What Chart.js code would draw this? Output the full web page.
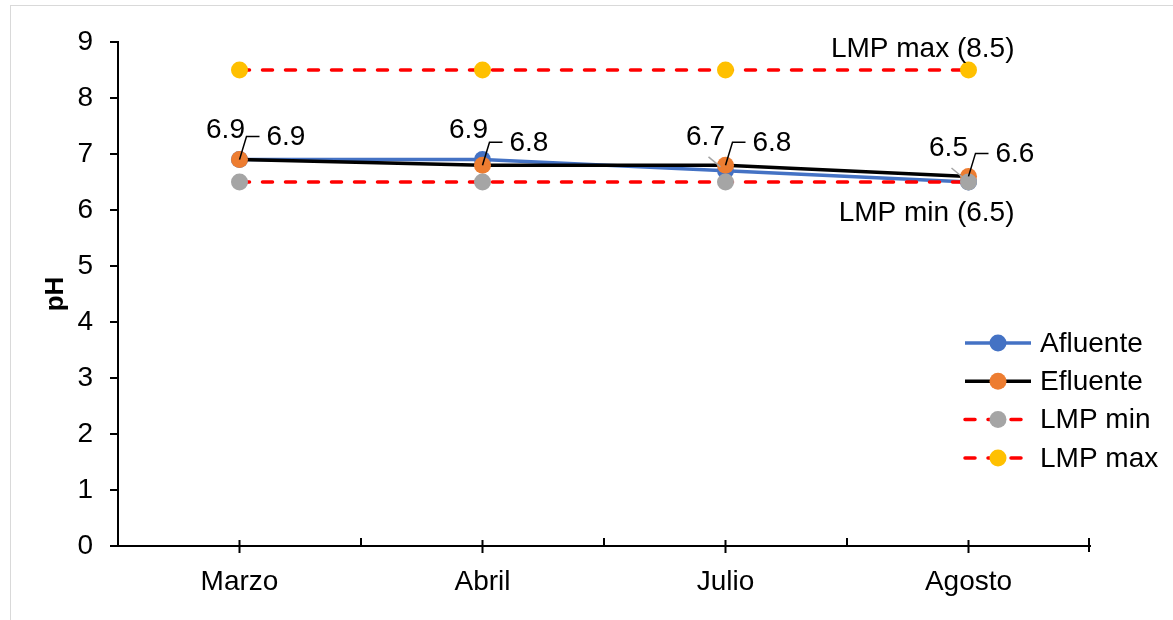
<!DOCTYPE html>
<html>
<head>
<meta charset="utf-8">
<script src="https://cdn.jsdelivr.net/npm/chart.js@4"></script>
<style>
  html, body { margin: 0; padding: 0; background: #fff; overflow: hidden; }
  #frame { position: absolute; left: 10px; top: 5px; width: 1300px; height: 700px; border: 1px solid #d9d9d9; }
  #wrap { position: absolute; left: 0; top: 0; width: 1173px; height: 620px; }
</style>
</head>
<body>
<div id="frame"></div>
<div id="wrap"><canvas id="myChart" width="1173" height="620"></canvas></div>
<script>
var meses = ["Marzo", "Abril", "Julio", "Agosto"];
var afluente = [6.9, 6.9, 6.7, 6.5];
var efluente = [6.9, 6.8, 6.8, 6.6];
var lmpMin = [6.5, 6.5, 6.5, 6.5];
var lmpMax = [8.5, 8.5, 8.5, 8.5];
var yTicks = [0, 1, 2, 3, 4, 5, 6, 7, 8, 9];

var FONT = "'Liberation Sans', Arial, sans-serif";

// etiquetas de datos (Afluente arriba-izquierda, Efluente a la derecha con linea guia)
var dataLabels = {
  id: 'dataLabels',
  afterDatasetsDraw: function(chart) {
    var ctx = chart.ctx;
    ctx.save();
    ctx.font = "28px " + FONT;
    ctx.fillStyle = "#000";
    ctx.textBaseline = "middle";

    var mA = chart.getDatasetMeta(0);
    mA.data.forEach(function(p, i) {
      ctx.textAlign = "center";
      // si el afluente queda debajo del efluente, la etiqueta se aparta con linea guia gris
      if (afluente[i] < efluente[i]) {
        ctx.strokeStyle = "#A5A5A5";
        ctx.lineWidth = 1.5;
        ctx.beginPath();
        ctx.moveTo(p.x - 17, p.y - 14);
        ctx.lineTo(p.x - 5, p.y - 4);
        ctx.stroke();
        ctx.fillText(afluente[i].toFixed(1), p.x - 20, p.y - 34);
      } else {
        ctx.fillText(afluente[i].toFixed(1), p.x - 14, p.y - 29);
      }
    });

    var mE = chart.getDatasetMeta(1);
    mE.data.forEach(function(p, i) {
      ctx.strokeStyle = "#000";
      ctx.lineWidth = 1.5;
      ctx.beginPath();
      ctx.moveTo(p.x, p.y);
      ctx.lineTo(p.x + 7, p.y - 23);
      ctx.lineTo(p.x + 20, p.y - 23);
      ctx.stroke();
      ctx.textAlign = "left";
      ctx.fillText(efluente[i].toFixed(1), p.x + 27, p.y - 22);
    });

    // textos LMP junto al ultimo punto
    var mMin = chart.getDatasetMeta(2);
    var pMin = mMin.data[mMin.data.length - 1];
    ctx.textAlign = "right";
    ctx.fillText("LMP min (6.5)", pMin.x + 46, pMin.y + 31);
    var mMax = chart.getDatasetMeta(3);
    var pMax = mMax.data[mMax.data.length - 1];
    ctx.fillText("LMP max (8.5)", pMax.x + 46, pMax.y - 21);
    ctx.restore();
  }
};

// marcas del eje X: cruzadas en el centro, interiores en los limites
var xTicks = {
  id: 'xTicks',
  afterDraw: function(chart) {
    var ctx = chart.ctx;
    var xs = chart.scales.x;
    var half = (xs.getPixelForValue(1) - xs.getPixelForValue(0)) / 2;
    ctx.save();
    ctx.strokeStyle = "#000";
    ctx.lineWidth = 2;
    meses.forEach(function(m, i) {
      var x = xs.getPixelForValue(i);
      ctx.beginPath();
      ctx.moveTo(x, xs.top - 6);
      ctx.lineTo(x, xs.top + 7);
      ctx.stroke();
      if (i > 0) {
        ctx.beginPath();
        ctx.moveTo(x - half, xs.top - 8);
        ctx.lineTo(x - half, xs.top);
        ctx.stroke();
      }
    });
    var xr = xs.right - 1;
    ctx.beginPath();
    ctx.moveTo(xr, xs.top - 8);
    ctx.lineTo(xr, xs.top + 6);
    ctx.stroke();
    ctx.restore();
  }
};

// leyenda a la derecha
var legendBox = {
  id: 'legendBox',
  afterDraw: function(chart) {
    var ctx = chart.ctx;
    var x0 = 963, y0 = 343, step = 38.3;
    ctx.save();
    chart.data.datasets.forEach(function(ds, i) {
      var y = y0 + i * step;
      ctx.strokeStyle = ds.borderColor;
      ctx.lineWidth = ds.borderWidth;
      ctx.lineCap = ds.borderCapStyle || 'butt';
      ctx.setLineDash(ds.borderDash || []);
      ctx.beginPath();
      ctx.moveTo(x0 + 2, y);
      ctx.lineTo(x0 + 68, y);
      ctx.stroke();
      ctx.setLineDash([]);
      ctx.fillStyle = ds.pointBackgroundColor;
      ctx.beginPath();
      ctx.arc(x0 + 35, y, 8.5, 0, Math.PI * 2);
      ctx.fill();
      ctx.fillStyle = "#000";
      ctx.font = "28px " + FONT;
      ctx.textAlign = "left";
      ctx.textBaseline = "middle";
      ctx.fillText(ds.label, x0 + 77, y + 1);
    });
    ctx.restore();
  }
};

var ctx = document.getElementById('myChart').getContext('2d');
var chart = new Chart(ctx, {
  type: 'line',
  data: {
    labels: meses,
    datasets: [{
      label: 'Afluente',
      data: afluente,
      borderColor: '#4472C4',
      borderWidth: 3.5,
      pointBackgroundColor: '#4472C4',
      pointBorderWidth: 0,
      pointRadius: 8.5,
      order: 4
    }, {
      label: 'Efluente',
      data: efluente,
      borderColor: '#000000',
      borderWidth: 3.5,
      pointBackgroundColor: '#ED7D31',
      pointBorderWidth: 0,
      pointRadius: 8.5,
      order: 3
    }, {
      label: 'LMP min',
      data: lmpMin,
      borderColor: '#FF0000',
      borderWidth: 3.5,
      borderDash: [10, 13],
      borderCapStyle: 'round',
      pointBackgroundColor: '#A5A5A5',
      pointBorderWidth: 0,
      pointRadius: 8.5,
      order: 2
    }, {
      label: 'LMP max',
      data: lmpMax,
      borderColor: '#FF0000',
      borderWidth: 3.5,
      borderDash: [10, 13],
      borderCapStyle: 'round',
      pointBackgroundColor: '#FFC000',
      pointBorderWidth: 0,
      pointRadius: 8.5,
      order: 1
    }]
  },
  options: {
    responsive: false,
    animation: false,
    layout: { padding: { top: 42, right: 83, bottom: 0, left: 0 } },
    plugins: {
      legend: { display: false },
      tooltip: { enabled: false }
    },
    scales: {
      x: {
        offset: true,
        border: { color: '#000', width: 2 },
        grid: { display: true, drawOnChartArea: false, drawTicks: false, color: 'rgba(0,0,0,0)' },
        ticks: { color: '#000', font: { family: FONT, size: 28 }, padding: 19 },
        afterFit: function(s) { s.height = 74; }
      },
      y: {
        min: 0,
        max: 9,
        afterBuildTicks: function(s) { s.ticks = yTicks.map(function(v) { return { value: v }; }); },
        border: { color: '#000', width: 2 },
        grid: { display: true, drawOnChartArea: false, color: '#000', lineWidth: 2, tickLength: 8 },
        ticks: { color: '#000', font: { family: FONT, size: 28 }, padding: 17 },
        title: { display: true, text: 'pH', color: '#000', font: { family: FONT, size: 26, weight: 'bold' }, padding: { top: 40, bottom: 0 } },
        afterFit: function(s) { s.width = 118; }
      }
    }
  },
  plugins: [dataLabels, xTicks, legendBox]
});
</script>
</body>
</html>
